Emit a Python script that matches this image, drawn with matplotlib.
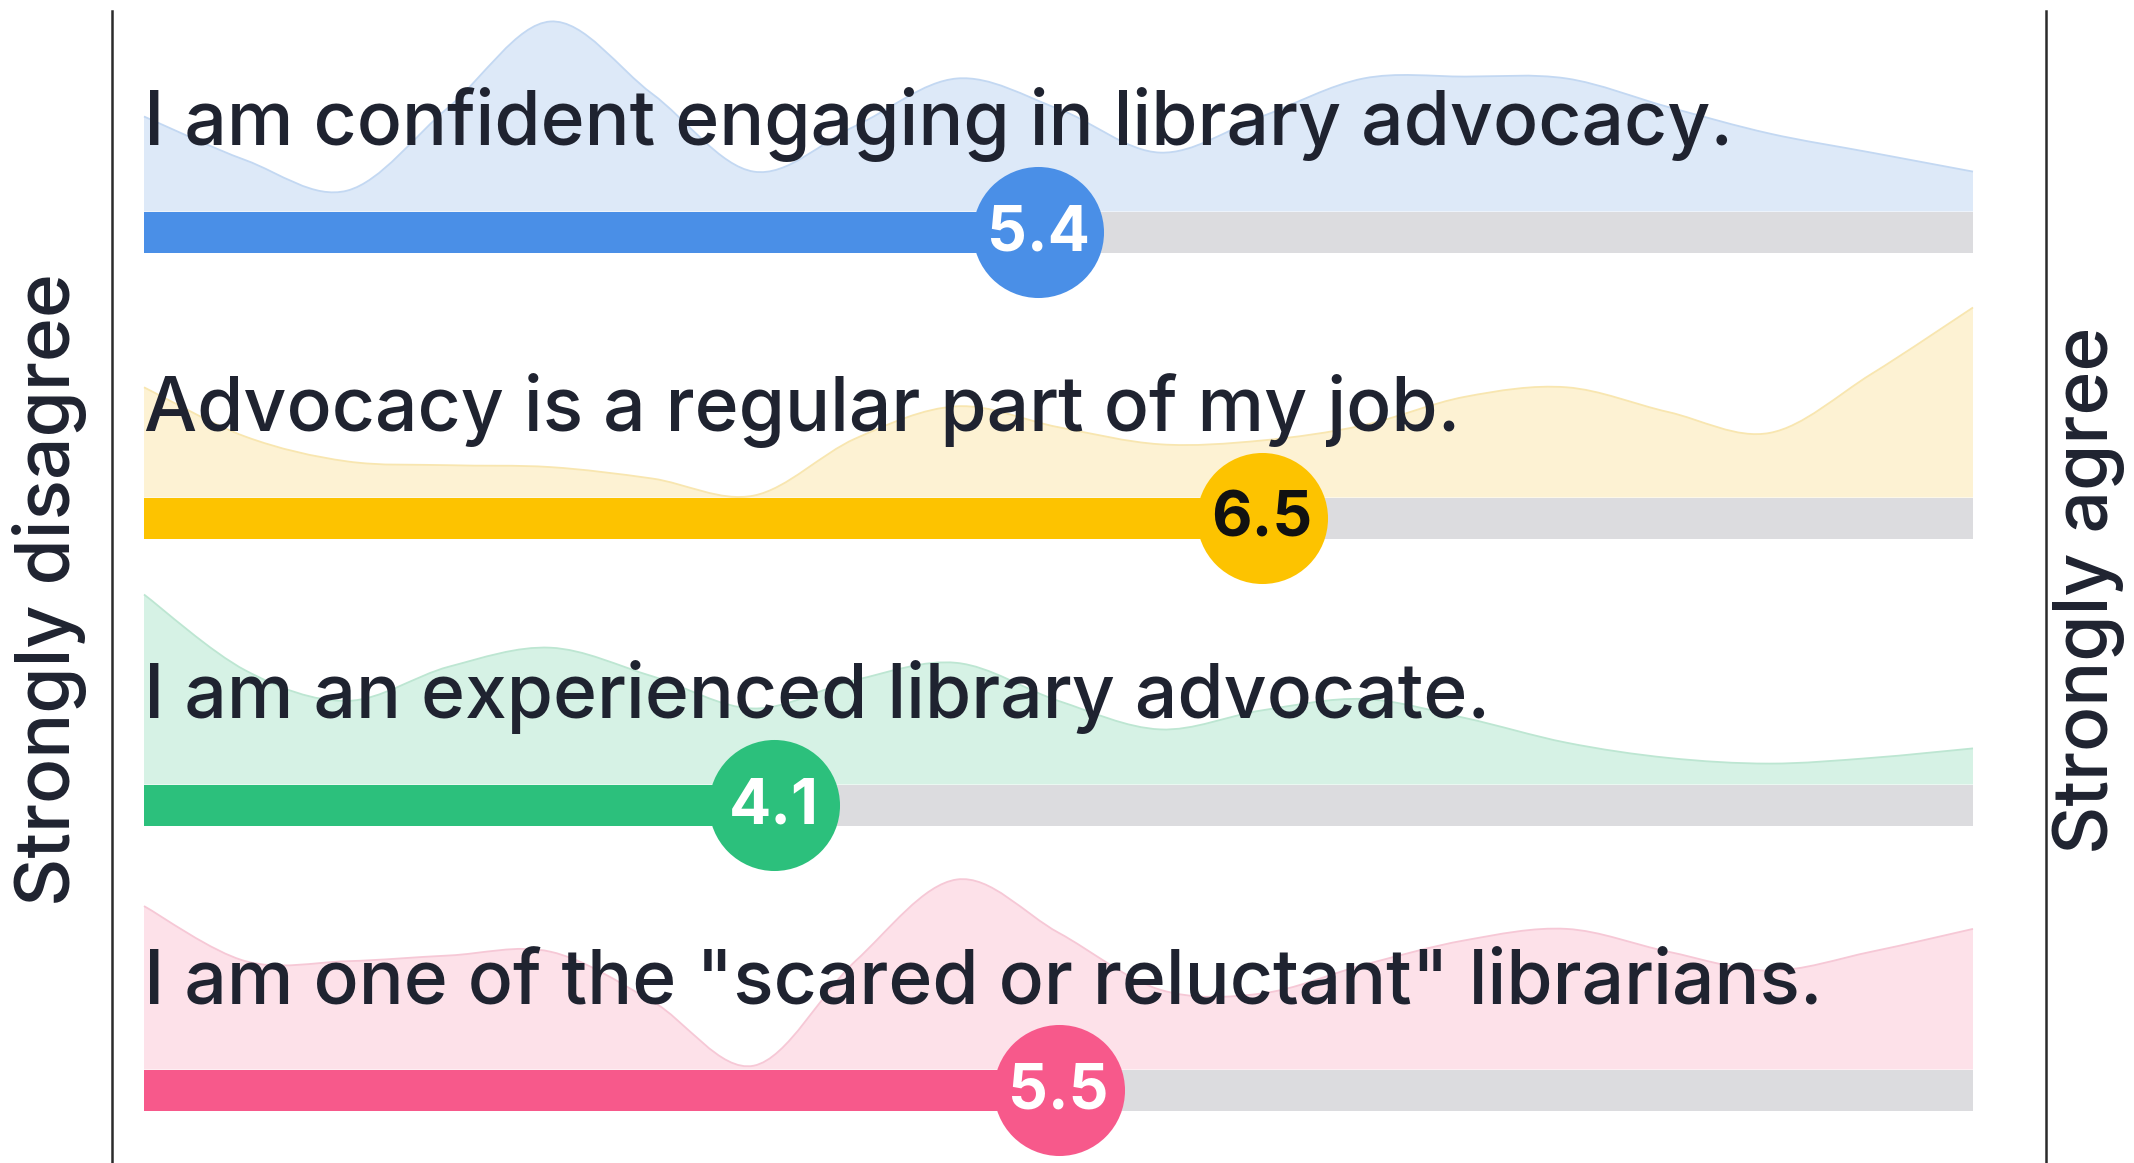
import numpy as np
import matplotlib.pyplot as plt
from matplotlib.path import Path
from matplotlib.patches import PathPatch

statements = ["I am confident engaging in library advocacy.",
              "Advocacy is a regular part of my job.",
              "I am an experienced library advocate.",
              'I am one of the "scared or reluctant" librarians.']
means = [5.4, 6.5, 4.1, 5.5]

scale_pts = [1, 1.5, 2, 2.5, 3, 3.5, 4, 4.5, 5, 5.5, 6, 6.5, 7, 7.5, 8, 8.5, 9, 9.5, 10]
dens_confident = [0.50, 0.27, 0.11, 0.55, 1.00, 0.62, 0.21, 0.45, 0.70, 0.54,
                  0.31, 0.50, 0.70, 0.71, 0.70, 0.55, 0.41, 0.31, 0.21]
dens_regular = [0.58, 0.32, 0.19, 0.17, 0.16, 0.10, 0.01, 0.31, 0.48, 0.37,
                0.28, 0.30, 0.38, 0.53, 0.58, 0.45, 0.34, 0.65, 1.00]
dens_experienced = [1.00, 0.60, 0.44, 0.62, 0.72, 0.57, 0.40, 0.55, 0.64, 0.44,
                    0.29, 0.39, 0.45, 0.35, 0.22, 0.14, 0.11, 0.14, 0.19]
dens_scared = [0.86, 0.57, 0.57, 0.60, 0.62, 0.36, 0.02, 0.57, 1.00, 0.72,
               0.42, 0.40, 0.55, 0.68, 0.74, 0.62, 0.52, 0.62, 0.74]
densities = [dens_confident, dens_regular, dens_experienced, dens_scared]

colors = ['#4a8fe7', '#fdc300', '#2cc07c', '#f7598b']
fills = ['#dde9f8', '#fdf2d3', '#d6f2e5', '#fde1e9']
edges = ['#c3d8f2', '#f8e6b0', '#bde6d2', '#f6c8d6']
value_colors = ['white', '#111111', 'white', 'white']

FONT = 'Inter'
TEXT = '#1f2330'

row_y = [232, 518, 805, 1090]   # pixel rows (y axis is in pixels, top down)
bar_h = 41
dens_h = 190


def curve_path(xs, ys, base, closed=True):
    xs = np.asarray(xs, float)
    ys = np.asarray(ys, float)
    pts = np.column_stack([xs, ys])
    n = len(pts)
    verts = [pts[0]]
    codes = [Path.MOVETO]
    for i in range(n - 1):
        p0 = pts[max(i - 1, 0)]
        p1 = pts[i]
        p2 = pts[i + 1]
        p3 = pts[min(i + 2, n - 1)]
        verts += [p1 + (p2 - p0) / 6, p2 - (p3 - p1) / 6, p2]
        codes += [Path.CURVE4] * 3
    if closed:
        verts = [(xs[0], base)] + verts + [(xs[-1], base), (xs[0], base)]
        codes = [Path.MOVETO, Path.LINETO] + codes[1:] + [Path.LINETO, Path.CLOSEPOLY]
    return Path(verts, codes)


fig = plt.figure(figsize=(21.34, 11.63), dpi=100)
ax = fig.add_axes([112 / 2134, 0, (2046 - 112) / 2134, 1 - 11 / 1163])
px = (1973 - 144) / 9.0
ax.set_xlim(1 + (112 - 144) / px, 1 + (2046 - 144) / px)
ax.set_ylim(1163, 11)

for i in range(4):
    yc = row_y[i]
    top = yc - bar_h / 2
    ys = [top - d * dens_h for d in densities[i]]
    ax.add_patch(PathPatch(curve_path(scale_pts, ys, top), facecolor=fills[i],
                           edgecolor='none', zorder=1))
    ax.add_patch(PathPatch(curve_path(scale_pts, ys, top, closed=False), facecolor='none',
                           edgecolor=edges[i], lw=1.3, zorder=1.5))
    ax.text(1, yc - 87, statements[i], fontsize=54, family=FONT, fontweight='medium',
            color=TEXT, ha='left', va='baseline', zorder=2)
    ax.barh(yc, 10 - 1, left=1, height=bar_h, color='#dcdcdf', zorder=3)
    ax.barh(yc, means[i] - 1, left=1, height=bar_h, color=colors[i], zorder=4)
    ax.scatter([means[i]], [yc], s=8900, color=colors[i], zorder=5, linewidths=0)
    ax.text(means[i], yc + 2, f"{means[i]:.1f}", fontsize=45, family=FONT,
            fontweight='bold', color=value_colors[i], ha='center', va='center', zorder=6)

for side in ['top', 'bottom']:
    ax.spines[side].set_visible(False)
for side in ['left', 'right']:
    ax.spines[side].set_color('#2b2b2b')
    ax.spines[side].set_linewidth(1.8)
ax.set_xticks([])
ax.set_yticks([])
ax.patch.set_alpha(0)

fig.text(50 / 2134, 1 - 590 / 1163, "Strongly disagree", rotation=90, fontsize=54,
         family=FONT, fontweight='medium', color=TEXT, ha='center', va='center')
fig.text(2089 / 2134, 1 - 590 / 1163, "Strongly agree", rotation=90, fontsize=54,
         family=FONT, fontweight='medium', color=TEXT, ha='center', va='center')

fig.savefig('out.png', dpi=100, facecolor='white')
